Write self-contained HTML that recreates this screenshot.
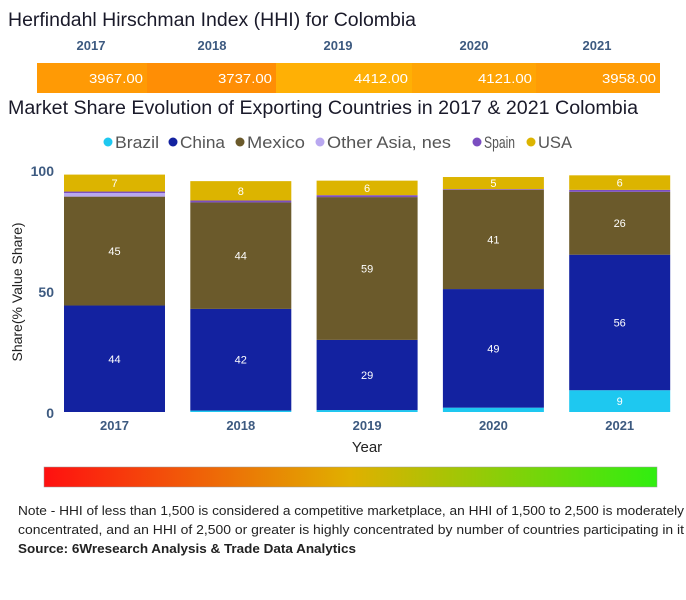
<!DOCTYPE html>
<html><head><meta charset="utf-8"><style>
html,body{margin:0;padding:0;background:#fff;}
svg{display:block;font-family:"Liberation Sans",sans-serif;}
</style></head><body>
<svg id="chart" width="686" height="600" viewBox="0 0 686 600">
<text x="8" y="26" font-size="19" fill="#1a1a2a" textLength="408" lengthAdjust="spacingAndGlyphs">Herfindahl Hirschman Index (HHI) for Colombia</text>
<g id="hhi"></g>
<text x="8" y="114" font-size="19" fill="#1a1a2a" textLength="630" lengthAdjust="spacingAndGlyphs">Market Share Evolution of Exporting Countries in 2017 &amp; 2021 Colombia</text>
<g id="legend"></g>
<g id="plot"></g>
<text transform="translate(22,292) rotate(-90)" text-anchor="middle" font-size="14" fill="#222">Share(% Value Share)</text>
<text x="367" y="452" text-anchor="middle" font-size="15" fill="#222">Year</text>
<defs><linearGradient id="grad" x1="0" x2="1"><stop offset="0" stop-color="#ff1010"/><stop offset="0.5" stop-color="#e0b000"/><stop offset="1" stop-color="#30ee10"/></linearGradient></defs>
<rect x="44" y="467" width="613" height="20" fill="url(#grad)" stroke="#999" stroke-width="0.5"/>
<text x="18" y="515" font-size="13" fill="#222" textLength="666" lengthAdjust="spacingAndGlyphs">Note - HHI of less than 1,500 is considered a competitive marketplace, an HHI of 1,500 to 2,500 is moderately</text>
<text x="18" y="534" font-size="13" fill="#222" textLength="666" lengthAdjust="spacingAndGlyphs">concentrated, and an HHI of 2,500 or greater is highly concentrated by number of countries participating in it</text>
<text x="18" y="553" font-size="13" font-weight="bold" fill="#222" textLength="338" lengthAdjust="spacingAndGlyphs">Source: 6Wresearch Analysis &amp; Trade Data Analytics</text>
</svg>
<script>
const years = ["2017","2018","2019","2020","2021"];
const hhiValues = [3967, 3737, 4412, 4121, 3958];
const seriesNames = ["Brazil","China","Mexico","Other Asia, nes","Spain","USA"];
const brazil = [0, 0.6, 0.8, 1.8, 9];
const china = [44, 42, 29, 49, 56];
const mexico = [45, 44, 59, 41, 26];
const otherAsia = [1.5, 0, 0, 0, 0];
const spain = [0.6, 0.8, 0.8, 0.3, 0.8];
const usa = [7, 8, 6, 5, 6];
const yTicks = [0, 50, 100];

const NS = "http://www.w3.org/2000/svg";
function mk(tag, attrs, parent, txt){const e=document.createElementNS(NS,tag);for(const k in attrs)e.setAttribute(k,attrs[k]);if(txt!==undefined)e.textContent=txt;parent.appendChild(e);return e;}

// HHI table
const hhiG=document.getElementById('hhi');
const segEdges=[37,147,276,412,536,660];
const segColors=["#ff9a05","#ff8e05","#ffb005","#ffa505","#ff9c05"];
const headX=[91,212,338,474,597];
years.forEach((y,i)=>{
  const h=mk('text',{x:headX[i],y:50,'text-anchor':'middle','font-size':13,'font-weight':'bold',fill:'#3d5a80'},hhiG,y);
  
  
  const r=mk('rect',{x:segEdges[i],y:63,width:segEdges[i+1]-segEdges[i],height:30,fill:segColors[i]},hhiG);
  
  
  const t=mk('text',{x:segEdges[i+1]-4,y:83,'text-anchor':'end','font-size':13,fill:'#fff',textLength:54,lengthAdjust:'spacingAndGlyphs'},hhiG,hhiValues[i].toFixed(2));
  
  
});

// legend
const colors=["#1ec8f0","#1322a0","#6b5a2b","#b9a8f0","#7b4ec0","#dcb400"];
const legX=[108,173,240,320,477,531];
const legW=[44,45,58,124,31,34];
const lg=document.getElementById('legend');
seriesNames.forEach((n,i)=>{
  const c=mk('circle',{cx:legX[i],cy:142,r:4.5,fill:colors[i]},lg);
  
  
  const t=mk('text',{x:legX[i]+7,y:148,'font-size':17,fill:'#555',textLength:legW[i],lengthAdjust:'spacingAndGlyphs'},lg,n);
  
  
});

// chart
const plot=document.getElementById('plot');
const y0=412, pxPer=2.42;
const yScale=v=>y0-v*pxPer;
const barW=101, x0=64, pitch=126.3;
const xScale=i=>x0+i*pitch;
yTicks.forEach(t=>{
  const e=mk('text',{x:54,y:yScale(t)+6,'text-anchor':'end','font-size':14,'font-weight':'bold',fill:'#3d5a80'},plot,String(t));
  
  
});
const series=[brazil,china,mexico,otherAsia,spain,usa];
years.forEach((yr,i)=>{
  let cum=0;
  series.forEach((s,k)=>{
    const v=s[i]; if(v<=0){return;}
    const top=yScale(cum+v), bot=yScale(cum);
    const r=mk('rect',{x:xScale(i),y:top,width:barW,height:bot-top,fill:colors[k]},plot);
    
    
    if(v>=4){
      const t=mk('text',{x:xScale(i)+barW/2,y:(top+bot)/2+4,'text-anchor':'middle','font-size':11,fill:'#fff'},plot,String(Math.round(v)));
      
      
    }
    cum+=v;
  });
  const xl=mk('text',{x:xScale(i)+barW/2,y:430,'text-anchor':'middle','font-size':13,'font-weight':'bold',fill:'#3d5a80'},plot,yr);
  
  
});
</script>
</body></html>
